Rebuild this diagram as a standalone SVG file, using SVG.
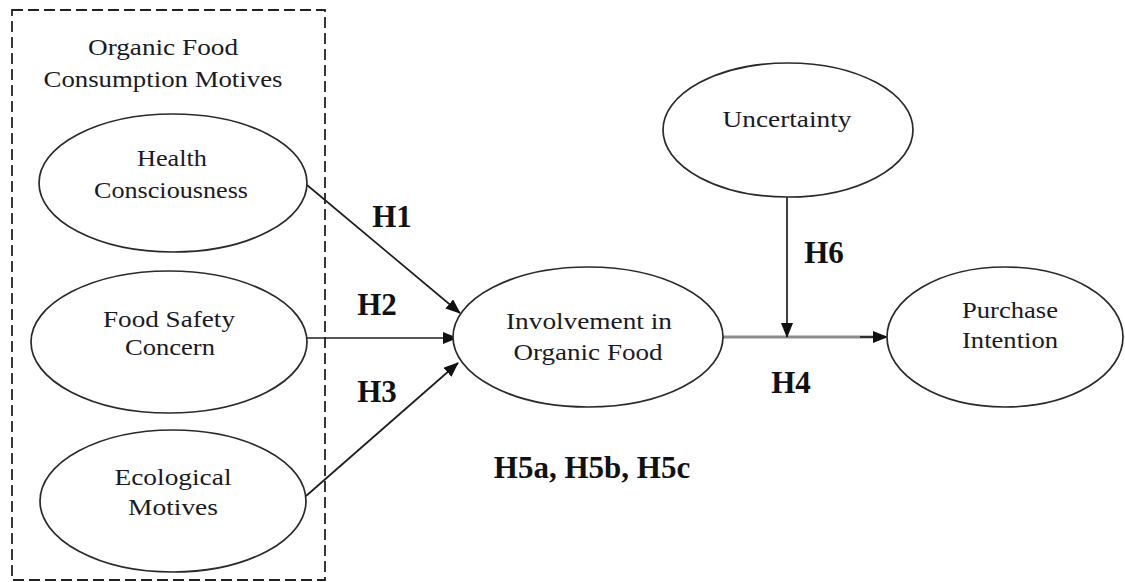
<svg xmlns="http://www.w3.org/2000/svg" width="1125" height="582" viewBox="0 0 1125 582">
  <defs>
    <style>
      .node { fill: #ffffff; stroke: #2a2a2a; stroke-width: 1.7; }
      .label { font-family: "Liberation Serif", "Times New Roman", serif; font-size: 24px; fill: #1a1a24; text-anchor: middle; }
      .hyp { font-family: "Liberation Serif", "Times New Roman", serif; font-size: 31px; font-weight: bold; fill: #111; text-anchor: middle; }
      .edge { stroke: #1e1e1e; stroke-width: 1.7; fill: none; }
      .edge-grey { stroke: #8c8c8c; stroke-width: 3; fill: none; }
      .group-box { fill: none; stroke: #222; stroke-width: 1.8; stroke-dasharray: 11 5; }
    </style>
    <marker id="arrow" markerUnits="userSpaceOnUse" markerWidth="15" markerHeight="12" refX="14" refY="6" orient="auto">
      <path d="M0,0 L15,6 L0,12 z" fill="#111"/>
    </marker>
  </defs>

  <rect width="1125" height="582" fill="#ffffff"/>

  <!-- motive group frame -->
  <g id="motives-group">
    <rect class="group-box" x="12" y="10" width="313" height="570"/>
    <text class="label" x="163" y="55" textLength="150" lengthAdjust="spacingAndGlyphs">Organic Food</text>
    <text class="label" x="163" y="87" textLength="239" lengthAdjust="spacingAndGlyphs">Consumption Motives</text>
  </g>

  <!-- connectors -->
  <g id="connectors">
    <line class="edge" x1="307" y1="185" x2="460" y2="313" marker-end="url(#arrow)"/>
    <line class="edge" x1="307" y1="338" x2="457" y2="338" marker-end="url(#arrow)"/>
    <line class="edge" x1="306" y1="496" x2="458" y2="363" marker-end="url(#arrow)"/>
    <line class="edge-grey" x1="723" y1="337" x2="885" y2="337"/>
    <line class="edge" x1="860" y1="337" x2="887" y2="337" marker-end="url(#arrow)"/>
    <line class="edge" x1="787" y1="197" x2="787" y2="337" marker-end="url(#arrow)"/>
  </g>

  <!-- hypothesis labels -->
  <g id="hypotheses">
    <text class="hyp" x="392" y="227">H1</text>
    <text class="hyp" x="377" y="315">H2</text>
    <text class="hyp" x="377" y="402">H3</text>
    <text class="hyp" x="824" y="263">H6</text>
    <text class="hyp" x="791" y="393">H4</text>
    <text class="hyp" x="592" y="478">H5a, H5b, H5c</text>
  </g>

  <g id="health-consciousness">
    <ellipse class="node" cx="173" cy="183" rx="134" ry="69"/>
    <text class="label" x="172" y="166" textLength="70" lengthAdjust="spacingAndGlyphs">Health</text>
    <text class="label" x="171" y="198" textLength="154" lengthAdjust="spacingAndGlyphs">Consciousness</text>
  </g>

  <g id="food-safety-concern">
    <ellipse class="node" cx="169" cy="342" rx="138" ry="71"/>
    <text class="label" x="169" y="327" textLength="132" lengthAdjust="spacingAndGlyphs">Food Safety</text>
    <text class="label" x="170" y="355" textLength="90" lengthAdjust="spacingAndGlyphs">Concern</text>
  </g>

  <g id="ecological-motives">
    <ellipse class="node" cx="173" cy="501" rx="133" ry="71"/>
    <text class="label" x="173" y="485" textLength="117" lengthAdjust="spacingAndGlyphs">Ecological</text>
    <text class="label" x="173" y="515" textLength="90" lengthAdjust="spacingAndGlyphs">Motives</text>
  </g>

  <g id="involvement">
    <ellipse class="node" cx="588" cy="337" rx="135" ry="70"/>
    <text class="label" x="589" y="329" textLength="166" lengthAdjust="spacingAndGlyphs">Involvement in</text>
    <text class="label" x="588" y="360" textLength="149" lengthAdjust="spacingAndGlyphs">Organic Food</text>
  </g>

  <g id="uncertainty">
    <ellipse class="node" cx="788" cy="130" rx="125" ry="67"/>
    <text class="label" x="787" y="127" textLength="129" lengthAdjust="spacingAndGlyphs">Uncertainty</text>
  </g>

  <g id="purchase-intention">
    <ellipse class="node" cx="1005" cy="337" rx="118" ry="70"/>
    <text class="label" x="1010" y="318" textLength="96" lengthAdjust="spacingAndGlyphs">Purchase</text>
    <text class="label" x="1010" y="348" textLength="96" lengthAdjust="spacingAndGlyphs">Intention</text>
  </g>
</svg>
